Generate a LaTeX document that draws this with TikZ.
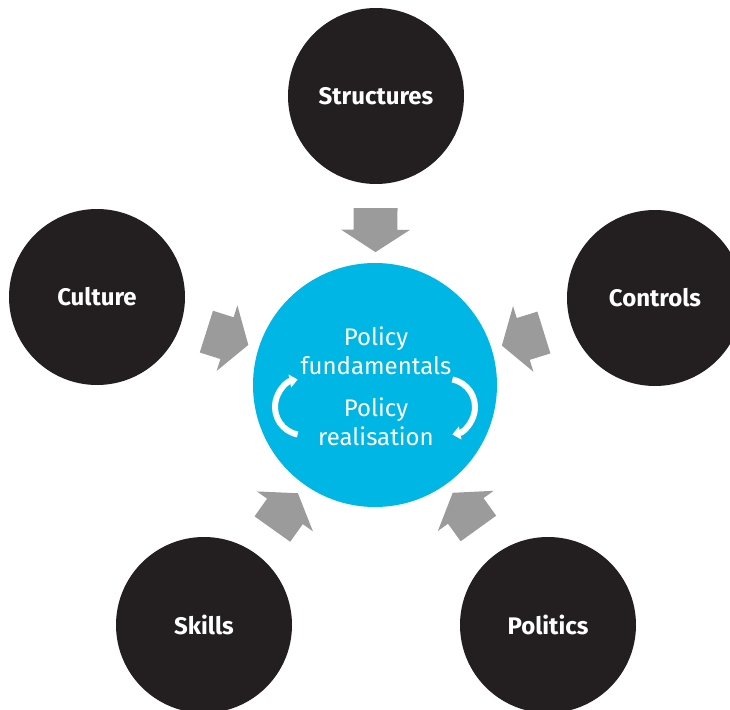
\documentclass[tikz,border=0pt]{standalone}
\usepackage{fontspec}
\setmainfont{Fira Sans}
\usetikzlibrary{shapes.arrows,calc,arrows.meta}
\definecolor{policyblue}{RGB}{0,182,228}
\definecolor{darkdisc}{RGB}{35,31,32}
\definecolor{arrowgrey}{RGB}{155,155,155}
\tikzset{
	disc/.style={circle,fill=darkdisc,minimum size=88pt,inner sep=0pt,text=white,font=\bfseries\fontsize{12}{14}\selectfont},
	push/.style={single arrow,fill=arrowgrey,minimum height=22pt,minimum width=34pt,single arrow head extend=6.25pt,single arrow tip angle=114,inner xsep=0pt,inner ysep=10.75pt,sloped,allow upside down},
	cycle/.style={white,line width=3pt,-{Triangle[length=4pt,width=6.5pt]}},
	inner/.style={text=white,align=center,font=\fontsize{12}{14.5}\selectfont}
}

\begin{document}
\begin{tikzpicture}[x=0.5pt,y=0.5pt]
	\useasboundingbox (0,0) rectangle (730,709);
	\node[circle,fill=policyblue,minimum size=122pt,inner sep=0pt] (centre) at (375,324) {};
	\foreach \nm/\x/\y/\txt in {structures/376/613/Structures,culture/97/412/Culture,controls/655/411/Controls,skills/204/84/Skills,politics/548/84/Politics}{
		\node[disc] (\nm) at (\x,\y) {\txt};
		\path (\nm) -- ($(centre)!81pt!(\nm)$) node[push,pos=1] (\nm-arrow) {};
	}
	%inside the blue circle
	\node[inner] (fund) at (376,358) {Policy\\fundamentals};
	\node[inner] (real) at (376,287) {Policy\\realisation};
	\draw[cycle] (303,302) ++(259:14pt) arc[start angle=259,end angle=101,radius=14pt];
	\draw[cycle] (447,302) ++(79:14pt) arc[start angle=79,end angle=-79,radius=14pt];
\end{tikzpicture}
\end{document}
